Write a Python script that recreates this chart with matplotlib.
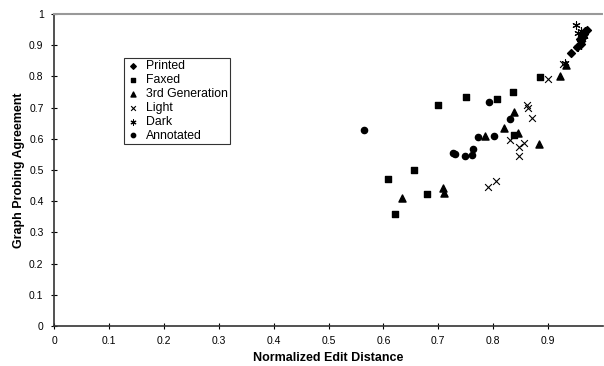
import matplotlib
matplotlib.use("Agg")
import matplotlib.pyplot as plt

plt.rcParams['font.family'] = ['Liberation Sans', 'DejaVu Sans']

# data (normalized edit distance, graph probing agreement)
printed_x = [0.941, 0.953, 0.958, 0.960, 0.962, 0.963, 0.965, 0.966, 0.968, 0.970, 0.960]
printed_y = [0.876, 0.893, 0.920, 0.915, 0.930, 0.925, 0.940, 0.935, 0.945, 0.950, 0.905]

faxed_x = [0.608, 0.621, 0.655, 0.679, 0.699, 0.750, 0.807, 0.836, 0.838, 0.885]
faxed_y = [0.470, 0.359, 0.500, 0.422, 0.708, 0.734, 0.728, 0.751, 0.612, 0.799]

gen3_x = [0.634, 0.709, 0.711, 0.785, 0.820, 0.838, 0.845, 0.884, 0.921, 0.932]
gen3_y = [0.410, 0.441, 0.425, 0.609, 0.635, 0.686, 0.620, 0.583, 0.801, 0.837]

light_x = [0.790, 0.806, 0.830, 0.847, 0.847, 0.856, 0.862, 0.864, 0.871, 0.900, 0.927]
light_y = [0.447, 0.466, 0.596, 0.545, 0.574, 0.587, 0.708, 0.699, 0.667, 0.792, 0.840]

dark_x = [0.930, 0.951, 0.955, 0.958, 0.962, 0.960, 0.965, 0.955]
dark_y = [0.843, 0.965, 0.895, 0.910, 0.920, 0.945, 0.930, 0.940]

annot_x = [0.564, 0.726, 0.731, 0.749, 0.761, 0.763, 0.773, 0.793, 0.801, 0.830]
annot_y = [0.629, 0.553, 0.551, 0.546, 0.548, 0.566, 0.607, 0.718, 0.609, 0.665]

x_ticks = [0, 0.1, 0.2, 0.3, 0.4, 0.5, 0.6, 0.7, 0.8, 0.9]
y_ticks = [0, 0.1, 0.2, 0.3, 0.4, 0.5, 0.6, 0.7, 0.8, 0.9, 1]

fig = plt.figure(figsize=(6.04, 3.66), dpi=100)
ax = fig.add_axes([54 / 604, 1 - 326 / 366, 549 / 604, 312 / 366])

ax.scatter(printed_x, printed_y, marker='D', s=16, color='black', label='Printed')
ax.scatter(faxed_x, faxed_y, marker='s', s=20, color='black', label='Faxed')
ax.scatter(gen3_x, gen3_y, marker='^', s=26, color='black', label='3rd Generation')
ax.scatter(light_x, light_y, marker='x', s=24, color='black', linewidths=0.8, label='Light')
ax.scatter(dark_x, dark_y, marker=(6, 2, 0), s=28, color='black', linewidths=0.8, label='Dark')
ax.scatter(annot_x, annot_y, marker='o', s=20, color='black', label='Annotated')

ax.set_xlim(0, 1)
ax.set_ylim(0, 1)
ax.set_xticks(x_ticks)
ax.set_xticklabels([f'{t:g}' for t in x_ticks])
ax.set_yticks(y_ticks)
ax.set_yticklabels([f'{t:g}' for t in y_ticks])
ax.tick_params(direction='inout', length=5, width=0.8, labelsize=7.5, pad=5)

ax.spines['right'].set_visible(False)
ax.spines['top'].set_color('0.6')
ax.spines['top'].set_linewidth(1.5)
ax.spines['top'].set_linestyle((0, (1, 1)))
for side in ['left', 'bottom']:
    ax.spines[side].set_color('0.2')
    ax.spines[side].set_linewidth(1.2)

ax.set_xlabel('Normalized Edit Distance', fontsize=9, fontweight='bold', labelpad=4)
ax.set_ylabel('Graph Probing Agreement', fontsize=9, fontweight='bold', labelpad=3)

leg = ax.legend(loc='upper left', bbox_to_anchor=(0.1275, 0.859), borderaxespad=0,
                fontsize=8.8, frameon=True, fancybox=False, edgecolor='black',
                markerscale=0.7, handletextpad=0.5, labelspacing=0.15, handlelength=1.1,
                borderpad=0.2, scatterpoints=1)
leg.get_frame().set_linewidth(0.8)

fig.savefig('out.png', dpi=100)
